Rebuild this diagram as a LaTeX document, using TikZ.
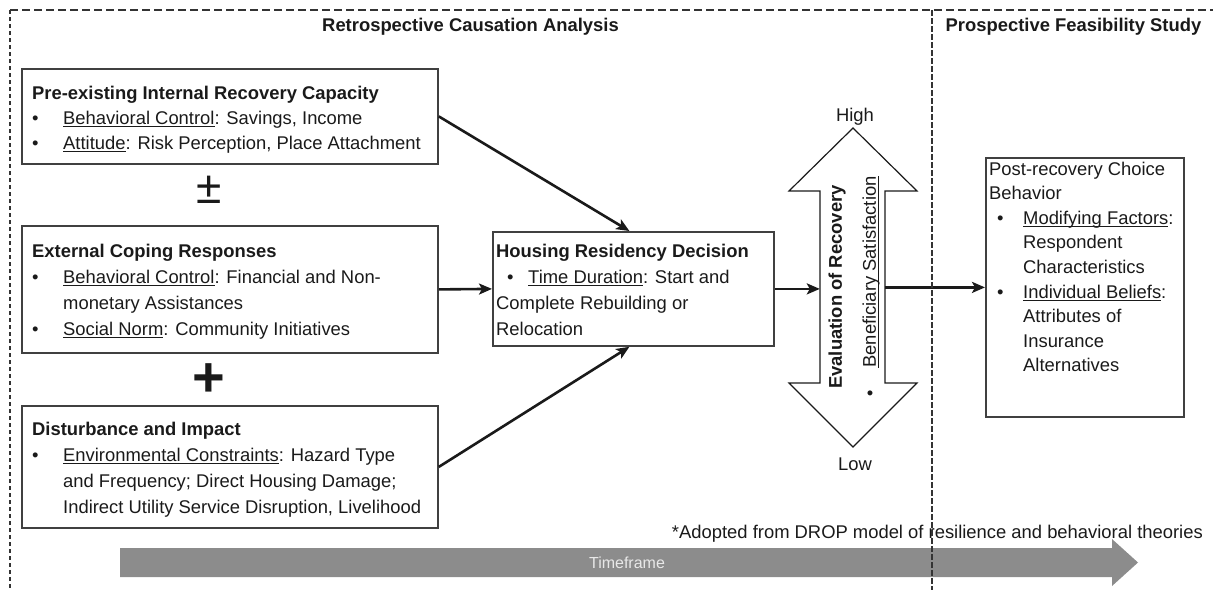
\documentclass[tikz,border=0pt]{standalone}
\usepackage{fontspec}
\setmainfont{Liberation Sans}
\usetikzlibrary{arrows.meta}

\definecolor{ink}{HTML}{1A1A1A}
\definecolor{boxgray}{HTML}{404040}
\definecolor{framegray}{HTML}{333333}
\definecolor{bargray}{HTML}{8C8C8C}
\definecolor{barText}{HTML}{E8E8E8}

% underline drawn at a fixed depth below the baseline
\newcommand{\uln}[1]{\begingroup\setbox0=\hbox{#1}\rlap{\rule[-3.2pt]{\wd0}{1.1pt}}\box0\endgroup}

\newcommand{\bodyfont}{\fontsize{18.4}{26}\selectfont}
\newcommand{\tightfont}{\fontsize{18.4}{25}\selectfont}
\newcommand{\sidefont}{\fontsize{18.4}{24.6}\selectfont}
% bullet item: #1 indent before the bullet, #2 room for the bullet, #3 text
\newcommand{\bitemx}[3]{\hspace*{#1}\makebox[#2][l]{\textbullet}#3}
\newcommand{\lbul}[1]{\bitemx{0pt}{31pt}{#1}}
\newcommand{\lcont}[1]{\hspace*{31pt}#1}
\newcommand{\rbul}[1]{\bitemx{8pt}{26pt}{#1}}
\newcommand{\rcont}[1]{\hspace*{34pt}#1}
\newcommand{\lines}[1]{\begin{tabular}[t]{@{}l@{}}#1\end{tabular}}

\begin{document}
\begin{tikzpicture}[x=1pt,y=-1pt,
  boxst/.style={draw=boxgray, line width=1.8pt, anchor=north west, inner sep=0pt},
  txt/.style={anchor=base west, inner sep=0pt, text=ink, font=\bodyfont},
  title/.style={inner sep=0pt, text=ink, font=\bodyfont\bfseries},
  conn/.style={draw=ink, line width=2.6pt, -{Stealth[length=13pt,width=11pt,inset=3pt]}},
  framestyle/.style={draw=framegray, line width=1.3pt},
]
\useasboundingbox (0,0) rectangle (1213,590);
\clip (0,0) rectangle (1213,590);

% timeline arrow along the bottom
\fill[bargray] (120,548) -- (1112,548) -- (1112,539) -- (1138,562.5)
  -- (1112,586) -- (1112,577) -- (120,577) -- cycle;
\node[inner sep=0pt, text=barText, font=\fontsize{16}{18}\selectfont] (timeframe) at (627,563) {Timeframe};

% section headings
\node[title] (retro) at (470.5,27) {Retrospective Causation Analysis};
\node[title] (prosp) at (1073.5,27) {Prospective Feasibility Study};

% factor boxes on the left
\node[boxst, minimum width=416pt, minimum height=95pt] (capacity) at (21,68) {};
\node[txt, font=\tightfont] (capacitytxt) at (32,99) {\lines{%
  \textbf{Pre-existing Internal Recovery Capacity}\\
  \lbul{\uln{Behavioral Control}: Savings, Income}\\
  \lbul{\uln{Attitude}: Risk Perception, Place Attachment}}};

\node[inner sep=0pt, text=ink, font=\fontsize{46}{46}\selectfont] (pm) at (209,190) {±};

\node[boxst, minimum width=416pt, minimum height=127pt] (coping) at (21,225) {};
\node[txt] (copingtxt) at (32,257) {\lines{%
  \textbf{External Coping Responses}\\
  \lbul{\uln{Behavioral Control}: Financial and Non-}\\
  \lcont{monetary Assistances}\\
  \lbul{\uln{Social Norm}: Community Initiatives}}};

\node[inner sep=0pt, text=ink, font=\fontsize{56}{56}\selectfont\bfseries] (plus) at (209,380) {+};

\node[boxst, minimum width=416pt, minimum height=122pt] (impact) at (21,405) {};
\node[txt] (impacttxt) at (32,435) {\lines{%
  \textbf{Disturbance and Impact}\\
  \lbul{\uln{Environmental Constraints}: Hazard Type}\\
  \lcont{and Frequency; Direct Housing Damage;}\\
  \lcont{Indirect Utility Service Disruption, Livelihood}}};

% decision box
\node[boxst, minimum width=281pt, minimum height=114pt] (decision) at (492,231) {};
\node[txt] (decisiontxt) at (496,257) {\lines{%
  \textbf{Housing Residency Decision}\\
  \bitemx{11pt}{21pt}{\uln{Time Duration}: Start and}\\
  Complete Rebuilding or\\
  Relocation}};

% evaluation double arrow
\draw[draw=ink, line width=1.2pt, line join=miter]
  (853,128) -- (917,191) -- (885,191) -- (885,383) -- (917,383) -- (853,447)
  -- (789,383) -- (820,383) -- (820,191) -- (789,191) -- cycle;
\node[inner sep=0pt, minimum width=65pt, minimum height=192pt] (evalshaft) at (852.5,287) {};
\node[title, rotate=90] (evaltxt) at (837,287) {Evaluation of Recovery};
\node[inner sep=0pt, rotate=90, text=ink, font=\bodyfont] (benef) at (871,272) {\uln{Beneficiary Satisfaction}};
\node[inner sep=0pt, text=ink, font=\bodyfont] (benefdot) at (870,395) {\textbullet};
\node[inner sep=0pt, text=ink, font=\bodyfont] (high) at (855,117) {High};
\node[inner sep=0pt, text=ink, font=\bodyfont] (low) at (855,464) {Low};

% choice behaviour box
\node[boxst, minimum width=198pt, minimum height=259pt] (choice) at (985,157) {};
\node[txt, font=\sidefont] (choicetxt) at (989,175) {\lines{%
  Post-recovery Choice\\
  Behavior\\
  \rbul{\uln{Modifying Factors}:}\\
  \rcont{Respondent}\\
  \rcont{Characteristics}\\
  \rbul{\uln{Individual Beliefs}:}\\
  \rcont{Attributes of}\\
  \rcont{Insurance}\\
  \rcont{Alternatives}}};

% source note
\node[anchor=base east, inner sep=0pt, text=ink, font=\bodyfont] (note) at (1203,538)
  {*Adopted from DROP model of resilience and behavioral theories};

% connectors
\draw[conn] (capacity.east) -- ([xshift=-4pt]decision.north);
\draw[conn] (coping.east) -- (decision.west);
\draw[conn] (impact.east) -- ([xshift=-4pt]decision.south);
\draw[conn] (decision.east) -- (decision.east -| evalshaft.west);
\draw[conn] (evalshaft.east |- choice.west) -- (choice.west);

% dashed frame and section divider
\coordinate (frameTL) at (10,10);
\coordinate (frameTR) at (1213,10);
\coordinate (frameBL) at (10,590);
\coordinate (divTop) at (932,10);
\coordinate (divBot) at (932,590);
\draw[framestyle, dash pattern=on 8pt off 4pt] (frameTL) -- (frameTR);
\draw[framestyle, dash pattern=on 4pt off 3pt] (frameTL) -- (frameBL);
\draw[framestyle, dash pattern=on 6pt off 2pt] (divTop) -- (divBot);
\end{tikzpicture}
\end{document}
